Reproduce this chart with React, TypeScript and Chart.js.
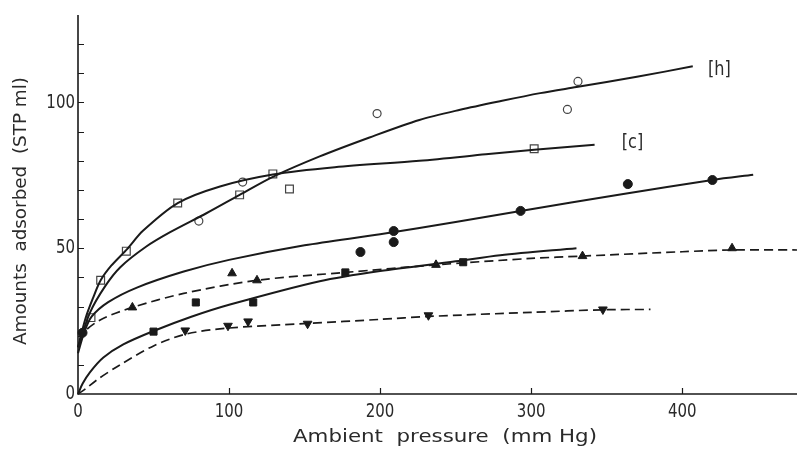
import React, { useEffect, useRef } from "react";
import { Chart, registerables } from "chart.js";

Chart.register(...registerables);

// Axis extents and ticks
const X_MAX = 476;
const Y_MAX = 130;
const X_TICKS = [0, 100, 200, 300, 400];
const X_MINOR = [100, 200, 300, 400];
const Y_LABELS = [0, 50, 100];
const Y_MINOR = [10, 20, 30, 40, 50, 60, 70, 80, 90, 100, 110, 120];

const X_TITLE = "Ambient  pressure  (mm Hg)";
const Y_TITLE = "Amounts  adsorbed  (STP ml)";

// Fitted curves (pressure, amount)
const curveH = [[0, 16], [8, 28], [18, 37], [28, 43.5], [45, 50.5], [61, 55.5], [85, 62], [107, 68.3], [129, 74.5], [160, 81.5], [193, 88], [226, 94], [253, 97.5], [280, 100.5], [306, 103.2], [330, 105.3], [370, 108.8], [407, 112.4]];
const curveC = [[0, 16], [5, 26], [10, 33], [15, 39], [22, 44], [32.5, 49.7], [43, 56], [66, 65.5], [94, 71.2], [129, 75.3], [170, 77.8], [226, 80], [270, 82.2], [302, 83.8], [342, 85.5]];
const curveMid = [[0, 14], [4, 21], [9, 26.5], [20, 31.5], [39, 36.5], [70, 42], [100, 46], [150, 51], [200, 54.8], [250, 59], [293, 62.8], [360, 68.5], [420, 73.4], [447, 75.2]];
const curveUpperDash = [[1, 18.5], [3.3, 21], [15, 25.5], [36, 29.7], [70, 34.5], [118.5, 39], [177, 41.7], [237, 44.3], [300, 46.5], [334, 47.3], [400, 48.8], [433, 49.4], [476, 49.4]];
const curveLow = [[0, 0], [3, 3.5], [8, 7.5], [16.8, 12.5], [30, 17], [50, 21.6], [75, 26.5], [100.6, 30.7], [160, 38.7], [200, 42.2], [250, 45.5], [279.5, 47.6], [330, 50]];
const curveLowDash = [[0, 0], [5, 1.8], [12.4, 4.8], [27.8, 10], [50, 16.5], [71, 20.5], [99, 22.6], [152, 24.2], [200, 25.6], [232, 26.6], [300, 28], [348, 28.9], [379, 29]];

// Measured points (pressure, amount)
const openSquares = [[8.6, 26.2], [15, 39], [32, 49], [66, 65.5], [107, 68.3], [129, 75.5], [140, 70.3], [302, 84.1]];
const openCircles = [[80, 59.3], [109, 72.7], [198, 96.2], [324, 97.6], [331, 107.2]];
const filledCircles = [[3, 21], [187, 48.7], [209, 55.9], [209, 52.1], [293, 62.8], [364, 72], [420, 73.4]];
const filledTriangles = [[36, 29.7], [102, 41.4], [118.5, 39], [237, 44.3], [334, 47.3], [433, 50]];
const filledSquares = [[50, 21.4], [78, 31.4], [116, 31.4], [177, 41.7], [255, 45.2]];
const downTriangles = [[71, 21.8], [99.3, 23.4], [112.6, 24.9], [152, 24.1], [232, 27], [347.5, 29]];

// Curve tags
const curveTags = [
  { text: "[h]", x: 417, y: 111 },
  { text: "[c]", x: 360, y: 86 },
];

const toXY = (arr: number[][]) => arr.map(([x, y]) => ({ x, y }));

const INK = "#1a1a1a";
const TEXT_FONT = "'DejaVu Sans', 'Liberation Sans', sans-serif";

function curve(data: number[][], dashed: boolean) {
  return {
    data: toXY(data),
    showLine: true,
    borderColor: INK,
    borderWidth: dashed ? 1.7 : 2,
    borderDash: dashed ? [9, 5] : [],
    pointRadius: 0,
    tension: 0.3,
    fill: false,
  };
}

function markers(data: number[][], style: string, filled: boolean, radius: number, rotation = 0) {
  return {
    data: toXY(data),
    showLine: false,
    pointStyle: style,
    pointRadius: radius,
    pointRotation: rotation,
    pointBackgroundColor: filled ? INK : "#ffffff",
    pointBorderColor: filled ? INK : "#444",
    pointBorderWidth: filled ? 1 : 1.2,
  };
}

function drawSqueezed(ctx: CanvasRenderingContext2D, text: string, x: number, y: number, sx: number, align: CanvasTextAlign) {
  ctx.save();
  ctx.translate(x, y);
  ctx.scale(sx, 1);
  ctx.textAlign = align;
  ctx.fillText(text, 0, 0);
  ctx.restore();
}

const axesPlugin = {
  id: "paperAxes",
  afterDatasetsDraw(chart: any) {
    const { ctx, chartArea, scales } = chart;
    const xs = scales.x;
    const ys = scales.y;
    const x0 = xs.getPixelForValue(0);
    const y0 = ys.getPixelForValue(0);
    ctx.save();
    ctx.strokeStyle = INK;
    ctx.fillStyle = "#2a2a2a";

    // axis lines
    ctx.lineWidth = 1.6;
    ctx.beginPath();
    ctx.moveTo(x0, chartArea.top);
    ctx.lineTo(x0, y0);
    ctx.lineTo(chartArea.right, y0);
    ctx.stroke();

    // inward ticks
    ctx.lineWidth = 1.2;
    ctx.beginPath();
    for (const v of Y_MINOR) {
      const py = Math.round(ys.getPixelForValue(v)) + 0.5;
      ctx.moveTo(x0, py);
      ctx.lineTo(x0 + 6, py);
    }
    for (const v of X_MINOR) {
      const px = Math.round(xs.getPixelForValue(v)) + 0.5;
      ctx.moveTo(px, y0);
      ctx.lineTo(px, y0 - 6);
    }
    ctx.stroke();

    // tick labels
    ctx.font = `20px ${TEXT_FONT}`;
    ctx.textBaseline = "middle";
    for (const v of Y_LABELS) {
      drawSqueezed(ctx, String(v), x0 - 3, ys.getPixelForValue(v), 0.75, "right");
    }
    for (const v of X_TICKS) {
      drawSqueezed(ctx, String(v), xs.getPixelForValue(v), y0 + 18, 0.75, "center");
    }

    // curve tags
    ctx.font = `19px ${TEXT_FONT}`;
    for (const t of curveTags) {
      drawSqueezed(ctx, t.text, xs.getPixelForValue(t.x), ys.getPixelForValue(t.y), 0.85, "left");
    }

    // axis titles
    ctx.font = `18px ${TEXT_FONT}`;
    ctx.textBaseline = "alphabetic";
    const wx = ctx.measureText(X_TITLE).width;
    drawSqueezed(ctx, X_TITLE, 445, 442, 304 / wx, "center");

    const wy = ctx.measureText(Y_TITLE).width;
    ctx.save();
    ctx.translate(26, 211);
    ctx.rotate(-Math.PI / 2);
    ctx.scale(268 / wy, 1);
    ctx.textAlign = "center";
    ctx.fillText(Y_TITLE, 0, 0);
    ctx.restore();

    ctx.restore();
  },
};

export default function App() {
  const ref = useRef<HTMLCanvasElement | null>(null);

  useEffect(() => {
    if (!ref.current) return;
    const chart = new Chart(ref.current, {
      type: "scatter",
      data: {
        datasets: [
          curve(curveH, false),
          curve(curveC, false),
          curve(curveMid, false),
          curve(curveUpperDash, true),
          curve(curveLow, false),
          curve(curveLowDash, true),
          markers(openSquares, "rect", false, 5.5),
          markers(openCircles, "circle", false, 4),
          markers(filledCircles, "circle", true, 4.5),
          markers(filledTriangles, "triangle", true, 5),
          markers(filledSquares, "rect", true, 5),
          markers(downTriangles, "triangle", true, 5, 180),
        ] as any,
      },
      options: {
        responsive: false,
        animation: false,
        devicePixelRatio: 1,
        layout: { autoPadding: false, padding: { left: 78, right: 0, top: 15, bottom: 56 } },
        plugins: { legend: { display: false }, tooltip: { enabled: false } },
        events: [],
        clip: false as any,
        scales: {
          x: { type: "linear", min: 0, max: X_MAX, display: false },
          y: { type: "linear", min: 0, max: Y_MAX, display: false },
        },
      },
      plugins: [axesPlugin],
    });
    return () => chart.destroy();
  }, []);

  return (
    <div style={{ position: "fixed", left: 0, top: 0, width: 797, height: 450, background: "#fff" }}>
      <canvas ref={ref} width={797} height={450} />
    </div>
  );
}
